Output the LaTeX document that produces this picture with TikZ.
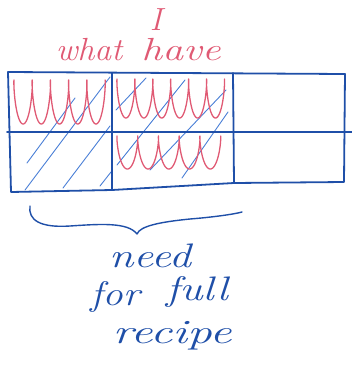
\documentclass[tikz,border=0pt]{standalone}
\usepackage{fontspec}
\begin{document}
\begin{tikzpicture}[x=1pt,y=-1pt,
  ink/.style={draw=inkblue,line width=1.8pt,line cap=round,line join=round},
  hatch/.style={draw=hatchblue,line width=0.9pt,line cap=round},
  scrib/.style={draw=inkred,line width=1.3pt,line cap=round,line join=round},
  redtxt/.style={text=inkred,font=\fontsize{32}{32}\selectfont\itshape,inner sep=0pt},
  bluetxt/.style={text=inkblue,font=\fontsize{34}{34}\selectfont\itshape,inner sep=0pt}]
\definecolor{inkblue}{HTML}{1F4FA8}
\definecolor{hatchblue}{HTML}{4A7FD6}
\definecolor{inkred}{HTML}{E05A74}
\useasboundingbox (0,0) rectangle (352,365);
% hatching
\draw[hatch] (27,163) -- (75,98);
\draw[hatch] (25,190) -- (110,77);
\draw[hatch] (63,188) -- (110,126);
\draw[hatch] (100,186) -- (111,172);
\draw[hatch] (116,110) -- (146,78);
\draw[hatch] (117,165) -- (185,80);
\draw[hatch] (150,170) -- (226,90);
\draw[hatch] (182,178) -- (228,112);
% red scribbles
\draw[scrib] plot[domain=0:1800,samples=300,variable=\t]
  ({14 + 2.9*rad(\t) - 3.3*sin(\t)}, {80 + 22*(1-cos(\t))});
\draw[scrib] plot[domain=0:2160,samples=300,variable=\t]
  ({117 + 2.85*rad(\t) - 3.2*sin(\t)}, {79 + 19.5*(1-cos(\t))});
\draw[scrib] plot[domain=0:1800,samples=300,variable=\t]
  ({117 + 3.3*rad(\t) - 3.6*sin(\t)}, {136 + 16.5*(1-cos(\t))});
% grid
\draw[ink] (8,72) -- (345,74) -- (344,182) -- (234,183);
\draw[ink] (8,72) -- (11,192) -- (112,190) -- (234,183);
\draw[ink] (7,132) -- (352,132);
\draw[ink] (112,73) -- (112,190);
\draw[ink] (233,73) -- (234,183);
% brace
\draw[ink,line width=1.4pt] (30,206) .. controls (28,220) and (40,228) .. (70,226)
  .. controls (100,224) and (128,222) .. (137,234)
  .. controls (140,226) and (160,222) .. (190,219)
  .. controls (215,217) and (235,214) .. (242,212);
% texts
\node[redtxt] (what) at (89,50) {\scalebox{1.05}[1]{what}};
\node[redtxt] (I) at (156,20) {I};
\node[redtxt] (have) at (181,50) {\scalebox{1.3}[1]{have}};
\node[bluetxt] (need) at (150,256) {\scalebox{1.3}[1]{need}};
\node[bluetxt] (for) at (115,297) {\scalebox{1.2}[1]{for}};
\node[bluetxt] (full) at (197,292) {\scalebox{1.3}[1]{full}};
\node[bluetxt] (recipe) at (172,336) {\scalebox{1.45}[1]{recipe}};
\end{tikzpicture}
\end{document}
